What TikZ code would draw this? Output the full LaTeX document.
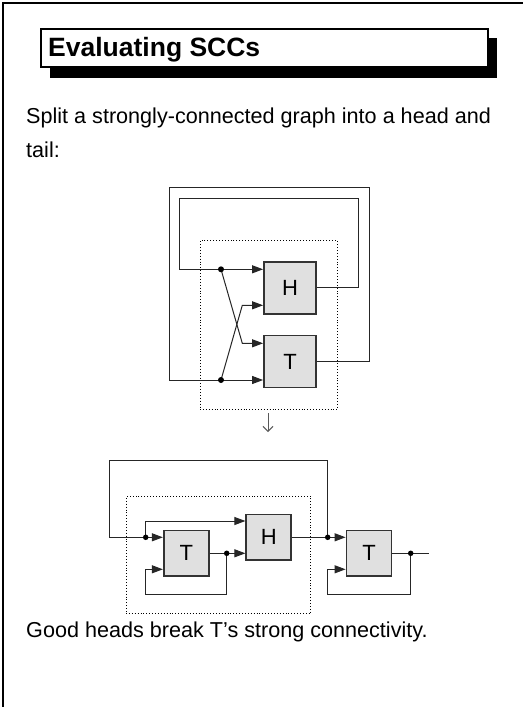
\documentclass[tikz,border=0pt]{standalone}
\usepackage{fontspec}
\setmainfont{Liberation Sans}
\usetikzlibrary{arrows.meta}
\begin{document}
\begin{tikzpicture}[x=1pt,y=-1pt,
  wire/.style={line width=1pt,black!85},
  arr/.style={wire,-{Triangle[length=11pt,width=8pt]}},
  blk/.style={draw=black!80,line width=1.8pt,fill=black!12,inner sep=0pt,font=\fontsize{22}{22}\selectfont},
  dotbox/.style={draw,dotted,line width=0.9pt,inner sep=0pt},
  jdot/.style={circle,fill=black,inner sep=0pt,minimum size=6pt},
  body/.style={anchor=base west,inner sep=0pt,font=\fontsize{21.6}{26}\selectfont}]
\useasboundingbox (0,0) rectangle (532,707);
% frame
\draw[line width=2.6pt] (3,707) -- (3,3) -- (523,3);
% title
\fill[black] (50,38) rectangle (497,78);
\node[draw,line width=2.2pt,fill=white,minimum width=447pt,minimum height=38pt,inner sep=0pt] (tbox) at (264.5,48) {};
\node[anchor=base west,inner sep=0pt,font=\bfseries\fontsize{26.5}{30}\selectfont] (title) at (48,56) {Evaluating SCCs};
% text
\node[body] (t1) at (26,123) {Split a strongly-connected graph into a head and};
\node[body] (t2) at (26,157) {tail:};
\node[body] (t3) at (26,637) {Good heads break T’s strong connectivity.};

% ---------- top diagram ----------
\node[dotbox,minimum width=137.3pt,minimum height=168.6pt] (S1) at (268.65,325) {};
\node[blk,minimum width=52pt,minimum height=52pt] (H) at (290,287.7) {H};
\node[blk,minimum width=52pt,minimum height=52pt] (T) at (290,361.5) {T};
\coordinate (dA) at (221,269.3);
\coordinate (dB) at (221,380);
\coordinate (kA) at (242.3,343.3);
\coordinate (kB) at (242.3,305.3);
\coordinate (iR) at (358.3,198.3);
\coordinate (iL) at (179.3,198.3);
\coordinate (oR) at (369.3,187.3);
\coordinate (oL) at (169,187.3);
\draw[wire] (H.east) -| (iR) -- (iL) |- (dA);
\draw[wire] (T.east) -| (oR) -- (oL) |- (dB);
\draw[arr] (dA) -- (H.west |- dA);
\draw[arr] (dB) -- (T.west |- dB);
\draw[arr] (dA) -- (kA) -- (T.west |- kA);
\draw[arr] (dB) -- (kB) -- (H.west |- kB);
\node[jdot] at (dA) {};
\node[jdot] at (dB) {};
% down arrow
\coordinate (a1) at (268,413);
\coordinate (a2) at (268,432);
\draw[black!65,line width=1pt,-{Straight Barb[length=5pt,width=10pt]}] (a1) -- (a2);

% ---------- bottom diagram ----------
\node[dotbox,minimum width=184.7pt,minimum height=116.6pt] (S2) at (218.35,555) {};
\node[blk,minimum width=45pt,minimum height=45.5pt] (T1) at (186.3,553.3) {T};
\node[blk,minimum width=45pt,minimum height=45.5pt] (H2) at (268.8,537.3) {H};
\node[blk,minimum width=45pt,minimum height=45.5pt] (T2) at (369,553.3) {T};
\coordinate (d1) at (145.7,537.3);
\coordinate (d2) at (226.7,553.3);
\coordinate (d3) at (327.7,537.3);
\coordinate (d4) at (410.7,553.3);
\coordinate (end) at (429.3,553.3);
\coordinate (fR) at (327.7,460);
\coordinate (fL) at (109,460);
\coordinate (u1) at (145.7,521);
\coordinate (l1a) at (226.7,594);
\coordinate (l1b) at (145.3,594);
\coordinate (l1c) at (145.3,569.3);
\coordinate (l2a) at (410.7,594);
\coordinate (l2b) at (327.7,594);
\coordinate (l2c) at (327.7,569.3);
\draw[wire] (d3) -- (fR) -- (fL) |- (d1);
\draw[arr] (d1) -- (T1.west |- d1);
\draw[arr] (d1) -- (u1) -- (H2.west |- u1);
\draw[wire] (T1.east) -- (d2);
\draw[arr] (d2) -- (H2.west |- d2);
\draw[arr] (d2) -- (l1a) -- (l1b) -- (l1c) -- (T1.west |- l1c);
\draw[wire] (H2.east) -- (d3);
\draw[arr] (d3) -- (T2.west |- d3);
\draw[wire] (T2.east) -- (d4) -- (end);
\draw[arr] (d4) -- (l2a) -- (l2b) -- (l2c) -- (T2.west |- l2c);
\foreach \p in {d1,d2,d3,d4} \node[jdot,minimum size=5.5pt] at (\p) {};
\end{tikzpicture}
\end{document}
